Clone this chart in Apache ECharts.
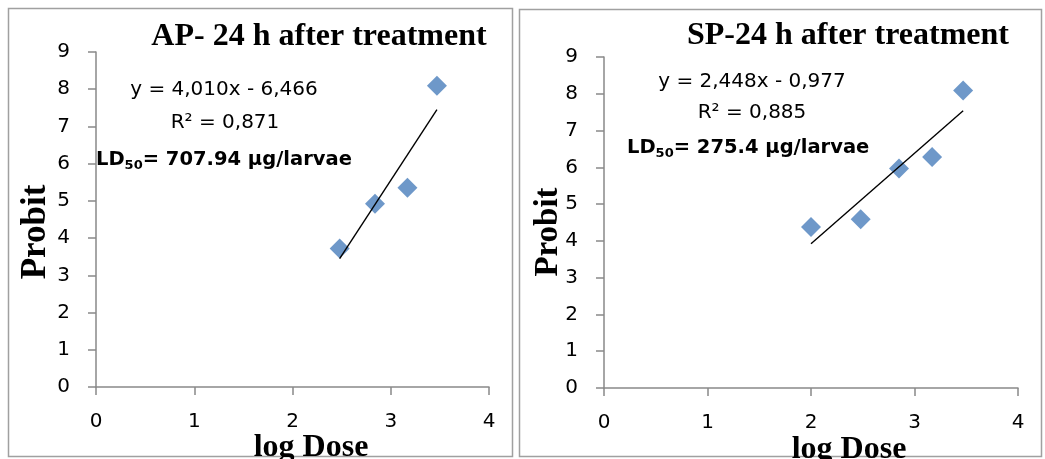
<!DOCTYPE html>
<html>
<head>
<meta charset="utf-8">
<script src="https://cdn.jsdelivr.net/npm/echarts@6/dist/echarts.min.js"></script>
<style>
html,body{margin:0;padding:0;background:#fff;}
#chart{width:1045px;height:459px;}
</style>
</head>
<body>
<div id="chart"></div>
<script>
// ---- data ----
const apLogDose = [2.48, 2.84, 3.17, 3.47];
const apProbit  = [3.72, 4.92, 5.35, 8.09];
const apTrendX  = [2.48, 3.47];
const apTrendY  = [3.45, 7.45];

const spLogDose = [2.00, 2.48, 2.85, 3.17, 3.47];
const spProbit  = [4.38, 4.59, 5.97, 6.28, 8.09];
const spTrendX  = [2.00, 3.47];
const spTrendY  = [3.92, 7.54];

const xTicks = [0, 1, 2, 3, 4];
const yTicks = [0, 1, 2, 3, 4, 5, 6, 7, 8, 9];

const titles = ['AP- 24 h after treatment', 'SP-24 h after treatment'];
const equations = ['y = 4,010x - 6,466', 'y = 2,448x - 0,977'];
const r2Texts = ['R² = 0,871', 'R² = 0,885'];
const ld50Values = ['707.94 µg/larvae', '275.4 µg/larvae'];
const xAxisName = 'log Dose';
const yAxisName = 'Probit';

// ---- helpers ----
const zip = (xs, ys) => xs.map((x, i) => [x, ys[i]]);
const AXIS = '#898989';
const LBL_FONT = '"DejaVu Sans", sans-serif';
const SERIF = '"Liberation Serif", "Times New Roman", serif';

function xAxisCfg(gi) {
  return {
    gridIndex: gi, type: 'value', min: xTicks[0], max: xTicks[xTicks.length - 1], interval: 1,
    axisLine: {show: true, onZero: false, lineStyle: {color: AXIS, width: 1.5}},
    axisTick: {show: true, length: 8, lineStyle: {color: AXIS, width: 1.5}},
    splitLine: {show: false},
    axisLabel: {color: '#000', fontFamily: LBL_FONT, fontSize: 20, margin: 25}
  };
}
function yAxisCfg(gi) {
  return {
    gridIndex: gi, type: 'value', min: yTicks[0], max: yTicks[yTicks.length - 1], interval: 1,
    axisLine: {show: true, onZero: false, lineStyle: {color: AXIS, width: 1.5}},
    axisTick: {show: true, length: 8, lineStyle: {color: AXIS, width: 1.5}},
    splitLine: {show: false},
    axisLabel: {color: '#000', fontFamily: LBL_FONT, fontSize: 20, margin: 26}
  };
}

function txt(x, y, text, font, align, extra) {
  return Object.assign({
    type: 'text', x: x, y: y, z: 10,
    style: Object.assign({text: text, font: font, fill: '#000', align: align || 'center', verticalAlign: 'middle'}, extra || {})
  });
}
function ld50(x, y, val) {
  return {
    type: 'text', x: x, y: y, z: 10,
    style: {
      text: '{a|LD}{s|50}{a|= ' + val + '}',
      align: 'left', verticalAlign: 'middle', fill: '#000',
      rich: {
        a: {fontFamily: LBL_FONT, fontWeight: 'bold', fontSize: 19.5, lineHeight: 24, fill: '#000'},
        s: {fontFamily: LBL_FONT, fontWeight: 'bold', fontSize: 13, lineHeight: 10, verticalAlign: 'bottom', fill: '#000'}
      }
    }
  };
}

const chart = echarts.init(document.getElementById('chart'), null, {renderer: 'canvas'});
chart.setOption({
  animation: false,
  backgroundColor: '#fff',
  grid: [
    {left: 96, top: 52, width: 393, height: 335},
    {left: 604, top: 57, width: 414, height: 331}
  ],
  xAxis: [xAxisCfg(0), xAxisCfg(1)],
  yAxis: [yAxisCfg(0), yAxisCfg(1)],
  series: [
    {type: 'line', xAxisIndex: 0, yAxisIndex: 0, data: zip(apTrendX, apTrendY), symbol: 'none',
     lineStyle: {color: '#000', width: 1.4}, z: 3},
    {type: 'scatter', xAxisIndex: 0, yAxisIndex: 0, data: zip(apLogDose, apProbit), symbol: 'diamond',
     symbolSize: 20, itemStyle: {color: '#4A7EBB'}, z: 2},
    {type: 'line', xAxisIndex: 1, yAxisIndex: 1, data: zip(spTrendX, spTrendY), symbol: 'none',
     lineStyle: {color: '#000', width: 1.4}, z: 3},
    {type: 'scatter', xAxisIndex: 1, yAxisIndex: 1, data: zip(spLogDose, spProbit), symbol: 'diamond',
     symbolSize: 20, itemStyle: {color: '#4A7EBB'}, z: 2}
  ],
  graphic: [
    {type: 'rect', shape: {x: 8.5, y: 8.5, width: 504, height: 448}, style: {fill: 'none', stroke: '#a0a0a0', lineWidth: 1.5}, z: 1},
    {type: 'rect', shape: {x: 519.5, y: 9.5, width: 522, height: 447}, style: {fill: 'none', stroke: '#a0a0a0', lineWidth: 1.5}, z: 1},
    txt(319, 37, titles[0], 'bold 32px ' + SERIF),
    txt(848, 36, titles[1], 'bold 32px ' + SERIF),
    txt(224, 90, equations[0], '20px ' + LBL_FONT),
    txt(225, 123, r2Texts[0], '20px ' + LBL_FONT),
    ld50(96, 160, ld50Values[0]),
    txt(752, 82, equations[1], '20px ' + LBL_FONT),
    txt(752, 113, r2Texts[1], '20px ' + LBL_FONT),
    ld50(627, 148, ld50Values[1]),
    {type: 'text', x: 36, y: 232, rotation: Math.PI / 2, z: 10,
     style: {text: yAxisName, font: 'bold 35px ' + SERIF, fill: '#000', align: 'center', verticalAlign: 'middle'}},
    {type: 'text', x: 548, y: 232, rotation: Math.PI / 2, z: 10,
     style: {text: yAxisName, font: 'bold 33px ' + SERIF, fill: '#000', align: 'center', verticalAlign: 'middle'}},
    txt(311, 448, xAxisName, 'bold 32px ' + SERIF),
    txt(849, 450, xAxisName, 'bold 32px ' + SERIF)
  ]
});
</script>
</body>
</html>
